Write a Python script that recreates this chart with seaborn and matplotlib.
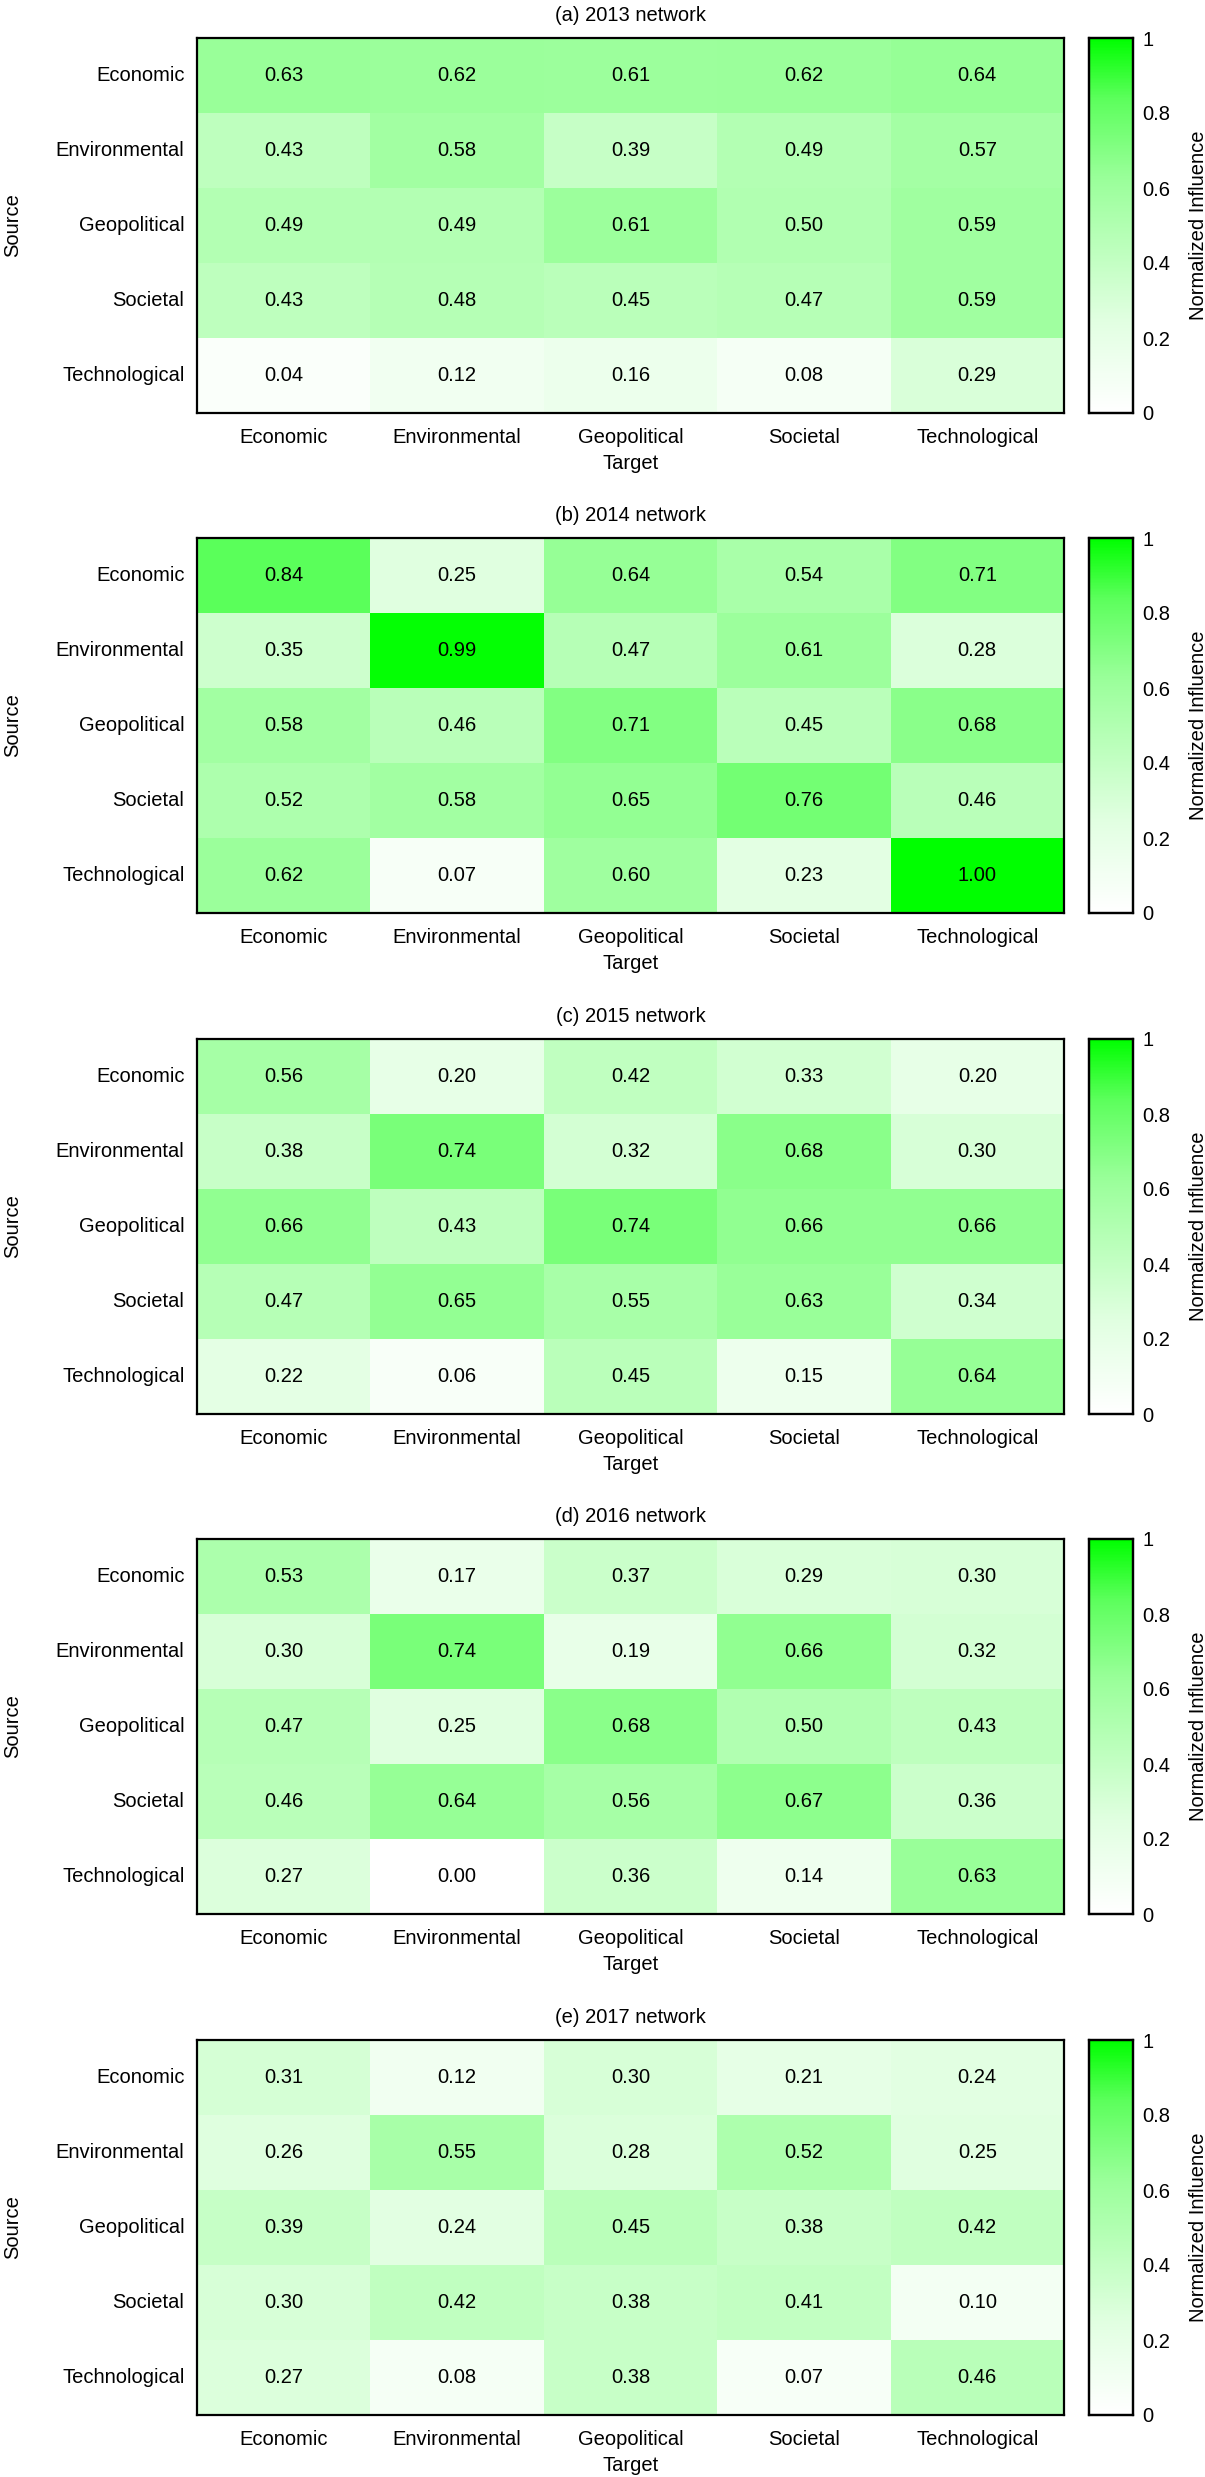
import numpy as np
import pandas as pd
import matplotlib
matplotlib.use("Agg")
import matplotlib.pyplot as plt
from matplotlib.colors import LinearSegmentedColormap
import seaborn as sns

sns.set_theme(style="white")
plt.rcParams['font.family'] = ['Liberation Sans', 'DejaVu Sans']

categories = ["Economic", "Environmental", "Geopolitical", "Societal", "Technological"]
titles = ["(a) 2013 network", "(b) 2014 network", "(c) 2015 network",
          "(d) 2016 network", "(e) 2017 network"]
cbar_ticks = [0, 0.2, 0.4, 0.6, 0.8, 1]
cbar_ticklabels = ["0", "0.2", "0.4", "0.6", "0.8", "1"]

values_2013 = [
    [0.63, 0.62, 0.61, 0.62, 0.64],
    [0.43, 0.58, 0.39, 0.49, 0.57],
    [0.49, 0.49, 0.61, 0.50, 0.59],
    [0.43, 0.48, 0.45, 0.47, 0.59],
    [0.04, 0.12, 0.16, 0.08, 0.29],
]
values_2014 = [
    [0.84, 0.25, 0.64, 0.54, 0.71],
    [0.35, 0.99, 0.47, 0.61, 0.28],
    [0.58, 0.46, 0.71, 0.45, 0.68],
    [0.52, 0.58, 0.65, 0.76, 0.46],
    [0.62, 0.07, 0.60, 0.23, 1.00],
]
values_2015 = [
    [0.56, 0.20, 0.42, 0.33, 0.20],
    [0.38, 0.74, 0.32, 0.68, 0.30],
    [0.66, 0.43, 0.74, 0.66, 0.66],
    [0.47, 0.65, 0.55, 0.63, 0.34],
    [0.22, 0.06, 0.45, 0.15, 0.64],
]
values_2016 = [
    [0.53, 0.17, 0.37, 0.29, 0.30],
    [0.30, 0.74, 0.19, 0.66, 0.32],
    [0.47, 0.25, 0.68, 0.50, 0.43],
    [0.46, 0.64, 0.56, 0.67, 0.36],
    [0.27, 0.00, 0.36, 0.14, 0.63],
]
values_2017 = [
    [0.31, 0.12, 0.30, 0.21, 0.24],
    [0.26, 0.55, 0.28, 0.52, 0.25],
    [0.39, 0.24, 0.45, 0.38, 0.42],
    [0.30, 0.42, 0.38, 0.41, 0.10],
    [0.27, 0.08, 0.38, 0.07, 0.46],
]
all_values = [values_2013, values_2014, values_2015, values_2016, values_2017]

# white -> green palette (red/blue channel level at each stop)
stops = [(0.0, 1.0), (0.25, 0.88), (0.45, 0.73), (0.63, 0.60), (0.84, 0.36), (1.0, 0.0)]
cdict = {
    "red": [(p, v, v) for p, v in stops],
    "green": [(0.0, 1.0, 1.0), (1.0, 1.0, 1.0)],
    "blue": [(p, v, v) for p, v in stops],
}
cmap = LinearSegmentedColormap("whitegreen", cdict, N=256)

W, H = 1205, 2477
fig = plt.figure(figsize=(W / 100, H / 100), dpi=100)

hm_left, hm_right = 197, 1064
cb_left, cb_right = 1089, 1133
tops = [38, 538, 1039, 1539, 2040]
ph = 375
fs = 14.5

for vals, title, top in zip(all_values, titles, tops):
    bottom = H - (top + ph)
    ax = fig.add_axes([hm_left / W, bottom / H, (hm_right - hm_left) / W, ph / H])
    cax = fig.add_axes([cb_left / W, bottom / H, (cb_right - cb_left) / W, ph / H])
    df = pd.DataFrame(vals, index=categories, columns=categories)
    sns.heatmap(df, ax=ax, cbar_ax=cax, cmap=cmap, vmin=0, vmax=1,
                annot=True, fmt=".2f", annot_kws={"color": "black", "fontsize": fs},
                cbar_kws={"ticks": cbar_ticks})
    for s in ax.spines.values():
        s.set_visible(True)
        s.set_color("black")
        s.set_linewidth(1.6)
    ax.tick_params(axis="both", length=0, labelsize=fs, colors="black")
    ax.tick_params(axis="x", pad=11)
    ax.tick_params(axis="y", pad=9)
    ax.set_yticklabels(categories, rotation=0)
    ax.set_xticklabels(categories, rotation=0)
    ax.set_xlabel("Target", fontsize=fs, color="black")
    ax.set_ylabel("Source", fontsize=fs, color="black")
    ax.xaxis.set_label_coords(0.5, -0.11)
    ax.yaxis.set_label_coords(-0.202, 0.5)
    ax.set_title(title, fontsize=fs, color="black", pad=12)
    cax.set_yticklabels(cbar_ticklabels)
    cax.tick_params(length=0, labelsize=fs, colors="black", pad=7)
    cax.set_ylabel("Normalized Influence", fontsize=fs, color="black", labelpad=13)
    for s in cax.spines.values():
        s.set_visible(True)
        s.set_color("black")
        s.set_linewidth(1.6)
    cb = ax.collections[0].colorbar
    cb.outline.set_visible(True)
    cb.outline.set_edgecolor("black")
    cb.outline.set_linewidth(1.6)

fig.savefig("out.png", dpi=100, facecolor="white")
